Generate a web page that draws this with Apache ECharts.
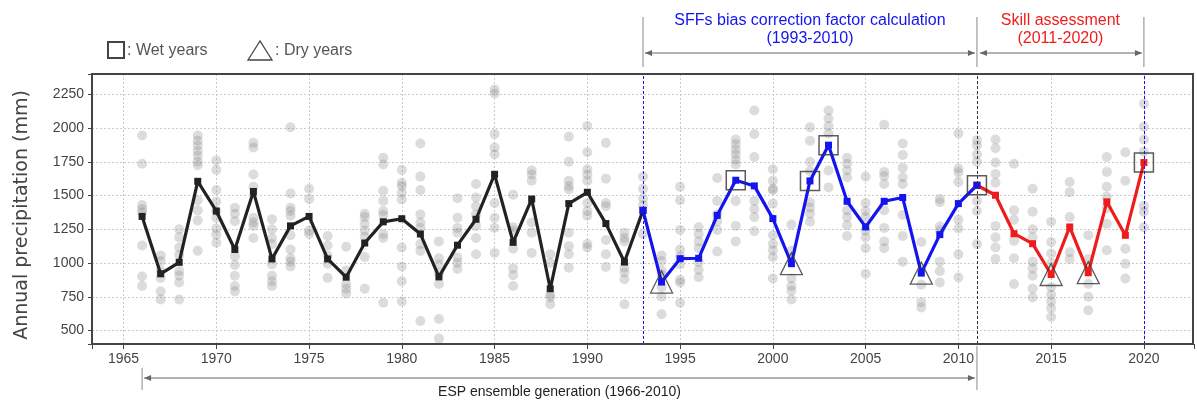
<!DOCTYPE html>
<html lang="en">
<head>
<meta charset="UTF-8" />
<title>Annual precipitation, observed and ensemble</title>
<style>
  * { margin: 0; padding: 0; }
  #main { width: 1197px; height: 400px; }
</style>
</head>
<body>
<div id="main"></div>
<script src="https://cdn.jsdelivr.net/npm/echarts@6/dist/echarts.min.js"></script>
<script>
// observed annual precipitation (mm), one value per year from 1966 to 2020
var firstYear = 1966;
var observed = [
  1345, 920, 1005, 1605, 1385, 1100, 1530, 1030, 1275, 1345,
  1030, 895, 1148, 1305, 1328, 1215, 897, 1132, 1324, 1657,
  1153, 1474, 809, 1440, 1524, 1292, 1007, 1390, 859, 1032,
  1035, 1353, 1613, 1571, 1329, 995, 1608, 1873, 1457, 1267,
  1457, 1485, 925, 1210, 1440, 1576, 1502, 1217, 1143, 915,
  1267, 928, 1453, 1205, 1744
];

// ensemble members (grey dots), one list per year from 1966 to 2020
var ensemble = [
  [1945, 1735, 1430, 1400, 1375, 1130, 900, 830],
  [1055, 1015, 945, 890, 790, 730],
  [1250, 1190, 1115, 1060, 940, 905, 855, 730],
  [1945, 1905, 1870, 1830, 1795, 1750, 1725, 1465, 1390, 1315, 1090],
  [1760, 1690, 1540, 1455, 1385, 1335, 1255, 1210, 1150],
  [1410, 1365, 1310, 1050, 985, 905, 830, 790],
  [1890, 1855, 1655, 1565, 1335, 1300, 1275, 1185],
  [1325, 1250, 1185, 1140, 990, 905, 865, 830],
  [2005, 1515, 1410, 1385, 1350, 1205, 1100, 1035, 1010, 975],
  [1550, 1475, 1240, 1215],
  [1200, 1130, 1055, 995, 890],
  [1120, 945, 845, 810, 775],
  [1365, 1340, 1290, 1240, 1195, 1045, 810],
  [1780, 1730, 1535, 1460, 1385, 1355, 1215, 1185, 705],
  [1690, 1595, 1570, 1520, 1470, 1115, 975, 865, 715],
  [1885, 1640, 1540, 1360, 1300, 1260, 1140, 1090, 570],
  [1160, 1035, 990, 925, 845, 585, 440],
  [1480, 1335, 1260, 1225, 1040, 1000, 955],
  [1585, 1485, 1420, 1360, 1275, 1185, 1065],
  [2285, 2255, 1955, 1855, 1805, 1445, 1335, 1260, 1075],
  [1505, 1265, 1240, 1105, 960, 910, 830],
  [1685, 1655, 1610, 1300, 1225, 1075],
  [1065, 1000, 765, 745, 695],
  [1935, 1750, 1610, 1570, 1545, 1225, 1125, 1065, 965],
  [2015, 1820, 1695, 1655, 1610, 1445, 1385, 1350, 1140, 1115],
  [1890, 1625, 1445, 1420, 1170, 1065, 970],
  [1225, 1185, 1160, 965, 930, 880, 695],
  [1640, 1550, 1480, 1430, 1215],
  [1055, 1015, 945, 915, 820, 750, 620],
  [1565, 1465, 1245, 1100, 1050, 990, 875, 855, 705],
  [1265, 1215, 1160, 1110, 1005, 950, 895],
  [1630, 1460, 1360, 1310, 1245, 1085],
  [1915, 1880, 1840, 1805, 1765, 1730, 1460, 1275, 1160],
  [2130, 1955, 1785, 1460, 1400, 1340, 1235],
  [1695, 1610, 1550, 1540, 1440, 1205, 1140, 1095, 1045, 885],
  [1285, 1090, 885, 830, 795, 730],
  [2005, 1905, 1750, 1680, 1450, 1410, 1365, 1305],
  [2130, 2070, 2015, 1960, 1685, 1560],
  [1780, 1735, 1685, 1635, 1390, 1340, 1280, 1200],
  [1640, 1445, 1385, 1340, 1240, 1190, 1110, 920],
  [2025, 1675, 1645, 1585, 1390, 1260, 1160, 1110],
  [1885, 1800, 1705, 1635, 1585, 1355, 1200, 1010],
  [1155, 840, 710, 670],
  [1475, 1450, 1270, 1240, 1010, 940, 855],
  [1960, 1700, 1670, 1600, 1320, 1255, 1065, 893],
  [1910, 1870, 1805, 1750, 1460, 1385, 1140],
  [1915, 1850, 1745, 1660, 1595, 1275, 1190, 1115, 1030],
  [1735, 1390, 1320, 1165, 1035, 845],
  [1550, 1380, 1250, 1190, 1010, 960, 905, 810, 745],
  [1305, 1155, 1070, 1000, 820, 765, 715, 665, 600],
  [1600, 1525, 1340, 1080, 1030],
  [1205, 1030, 845, 750, 650],
  [1785, 1675, 1565, 1490, 1405, 1290, 1095],
  [1820, 1610, 1105, 995, 885],
  [2180, 2010, 1915, 1825, 1425, 1380, 1265]
];

// highlighted years
var wetYears = [1998, 2002, 2003, 2011, 2020];
var dryYears = [1994, 2001, 2008, 2015, 2017];

// period boundaries
var espPeriod = [1966, 2011];
var sffPeriod = [1993, 2011];
var skillPeriod = [2011, 2020];

// axis extents
var xRange = [1963.3, 2022.7];
var yRange = [400, 2400];

var chart = echarts.init(document.getElementById("main"));

function obsAt(year) {
  return observed[year - firstYear];
}
// observed values between two years, as [year, value] pairs
function segment(from, to) {
  var out = [];
  for (var y = from; y <= to; y++) out.push([y, obsAt(y)]);
  return out;
}
var dots = [];
ensemble.forEach(function (list, i) {
  list.forEach(function (v) {
    dots.push([firstYear + i, v]);
  });
});

var blue = "#1414ee";
var red = "#ee1c1c";
var font = "Liberation Sans, Arial, sans-serif";

function lineSeries(data, color) {
  return {
    type: "line",
    data: data,
    symbol: "rect",
    symbolSize: 7,
    lineStyle: { color: color, width: 3.2 },
    itemStyle: { color: color },
    z: 3,
  };
}

chart.setOption({
  animation: false,
  grid: { left: 92, right: 1, top: 74, bottom: 56 },
  xAxis: {
    type: "value",
    min: xRange[0],
    max: xRange[1],
    minInterval: 5,
    maxInterval: 5,
    splitNumber: 12,
    axisLine: { show: false },
    axisTick: { show: true, length: 5, lineStyle: { color: "#444" } },
    axisLabel: {
      color: "#444", fontSize: 14, fontFamily: font, margin: 8,
      formatter: function (v) { return v % 5 === 0 ? String(v) : ""; },
    },
    splitLine: { show: true, showMinLine: false, showMaxLine: false, lineStyle: { color: "#ccc", type: [2, 2] } },
  },
  yAxis: {
    type: "value",
    min: yRange[0],
    max: yRange[1],
    minInterval: 250,
    maxInterval: 250,
    name: "Annual precipitation (mm)",
    nameLocation: "middle",
    nameGap: 60,
    nameTextStyle: { color: "#444", fontSize: 19, fontFamily: "DejaVu Sans", padding: [0, 0, 0, -12] },
    axisLine: { show: false },
    axisTick: { show: true, length: 4, lineStyle: { color: "#444" } },
    axisLabel: {
      color: "#444", fontSize: 14, fontFamily: font, margin: 8,
      formatter: function (v) { return v % 250 === 0 ? String(v) : ""; },
    },
    splitLine: { show: true, showMinLine: false, showMaxLine: false, lineStyle: { color: "#ccc", type: [2, 2] } },
  },
  series: [
    {
      type: "scatter",
      data: dots,
      symbolSize: 10,
      itemStyle: { color: "rgba(128,128,128,0.34)" },
      z: 1,
      markLine: {
        silent: true,
        symbol: ["none", "none"],
        label: { show: false },
        data: [
          { xAxis: sffPeriod[0], lineStyle: { color: blue, type: [3, 2], width: 1 } },
          { xAxis: skillPeriod[0], lineStyle: { color: "#333", type: [3, 2], width: 1 } },
          { xAxis: skillPeriod[1], lineStyle: { color: blue, type: [3, 2], width: 1 } },
        ],
      },
    },
    lineSeries(segment(espPeriod[0], sffPeriod[0]), "#222"),
    lineSeries(segment(skillPeriod[0], skillPeriod[1]), red),
    lineSeries(segment(sffPeriod[0], sffPeriod[1]), blue),
    {
      type: "scatter",
      data: wetYears.map(function (y) { return [y, obsAt(y)]; }),
      symbol: "rect",
      symbolSize: 19,
      itemStyle: { color: "rgba(0,0,0,0)", borderColor: "#333", borderWidth: 1.5 },
      z: 4,
    },
    {
      type: "scatter",
      data: dryYears.map(function (y) { return [y, obsAt(y)]; }),
      symbol: "triangle",
      symbolSize: 22,
      itemStyle: { color: "rgba(0,0,0,0)", borderColor: "#333", borderWidth: 1.3 },
      z: 4,
    },
  ],
});

// annotations: plot frame, brackets, arrows, texts and the marker key
function xPix(year) {
  return chart.convertToPixel({ gridIndex: 0 }, [year, 1000])[0];
}
function vbar(x, y1, y2) {
  return { type: "line", shape: { x1: x, y1: y1, x2: x, y2: y2 }, style: { stroke: "#888", lineWidth: 1 } };
}
function arrow(xa, xb, y) {
  var c = "#666";
  return [
    { type: "line", shape: { x1: xa, y1: y, x2: xb, y2: y }, style: { stroke: c, lineWidth: 1 } },
    { type: "polygon", shape: { points: [[xa, y], [xa + 7, y - 3], [xa + 7, y + 3]] }, style: { fill: c } },
    { type: "polygon", shape: { points: [[xb, y], [xb - 7, y - 3], [xb - 7, y + 3]] }, style: { fill: c } },
  ];
}
function label(text, x, y, color) {
  return {
    type: "text", x: x, y: y,
    style: { text: text, fill: color, font: "16px " + font, align: "center", verticalAlign: "middle" },
  };
}

var p0 = chart.convertToPixel({ gridIndex: 0 }, [xRange[0], yRange[1]]);
var p1 = chart.convertToPixel({ gridIndex: 0 }, [xRange[1], yRange[0]]);
var g = [{
  type: "rect", z: 10,
  shape: { x: p0[0], y: p0[1], width: p1[0] - p0[0] - 1, height: p1[1] - p0[1] },
  style: { fill: "none", stroke: "#444", lineWidth: 2 },
}];

var xs = xPix(sffPeriod[0]), xm = xPix(skillPeriod[0]), xe = xPix(skillPeriod[1]), x0 = xPix(espPeriod[0]);
g.push(vbar(xs, 17, 67), vbar(xm, 17, 67), vbar(xe, 17, 67));
g = g.concat(arrow(xs + 2, xm - 2, 53), arrow(xm + 3, xe - 2, 53));
g.push(label("SFFs bias correction factor calculation", (xs + xm) / 2, 21, blue));
g.push(label("(" + sffPeriod[0] + "-" + (sffPeriod[1] - 1) + ")", (xs + xm) / 2, 39, blue));
g.push(label("Skill assessment", (xm + xe) / 2, 21, red));
g.push(label("(" + skillPeriod[0] + "-" + skillPeriod[1] + ")", (xm + xe) / 2, 39, red));

g.push(vbar(x0, 368, 390), vbar(xm, 346, 390));
g = g.concat(arrow(x0 + 2, xm - 2, 378));
g.push({
  type: "text", x: (x0 + xm) / 2, y: 392,
  style: { text: "ESP ensemble generation (" + espPeriod[0] + "-" + (espPeriod[1] - 1) + ")", fill: "#222", font: "14px " + font, align: "center", verticalAlign: "middle" },
});

// marker key
g.push({ type: "rect", shape: { x: 108, y: 42, width: 16, height: 16 }, style: { fill: "none", stroke: "#444", lineWidth: 2 } });
g.push({ type: "text", x: 127, y: 51, style: { text: ": Wet years", fill: "#555", font: "16px " + font, verticalAlign: "middle" } });
g.push({ type: "polygon", shape: { points: [[260, 41], [248, 60], [272, 60]] }, style: { fill: "none", stroke: "#444", lineWidth: 1.3 } });
g.push({ type: "text", x: 275, y: 51, style: { text: ": Dry years", fill: "#555", font: "16px " + font, verticalAlign: "middle" } });

chart.setOption({ graphic: g });
</script>
</body>
</html>
